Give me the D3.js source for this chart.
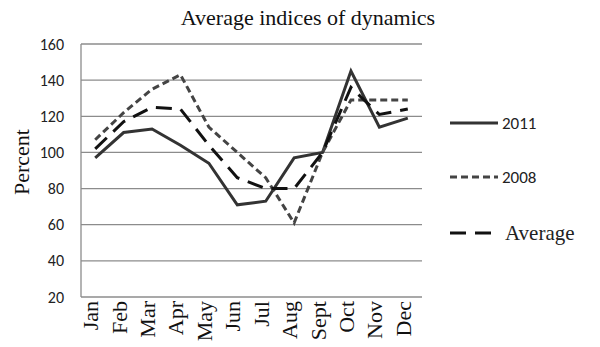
<!DOCTYPE html>
<html><head><meta charset="utf-8">
<script src="https://cdn.jsdelivr.net/npm/d3@7"></script>
<style>body{margin:0;background:#fff}svg{display:block}</style>
</head><body>
<svg id="c" width="600" height="347"></svg>
<script>
const months = ["Jan","Feb","Mar","Apr","May","Jun","Jul","Aug","Sept","Oct","Nov","Dec"];
const s2011 = [97,111,113,104,94,71,73,97,100,145,114,119];
const s2008 = [107,122,135,143,114,100,86,61,100,129,129,129];
const sAvg  = [102,117,125,124,104,86,80,80,100,136,121,124];
const yTicks = [20,40,60,80,100,120,140,160];

const svg = d3.select("#c");
const L = 81, R = 422, T = 44, B = 297;
const x = d3.scaleBand().domain(months).range([L, R]);
const y = d3.scaleLinear().domain([20,160]).range([B, T]);
const cx = m => x(m) + x.bandwidth()/2;

// gridlines
svg.append("g").selectAll("line").data(yTicks).join("line")
  .attr("x1", L).attr("x2", R).attr("y1", d=>y(d)).attr("y2", d=>y(d))
  .attr("stroke", "#8c8c8c").attr("stroke-width", 1.3);
svg.append("line").attr("x1", L).attr("x2", L).attr("y1", T).attr("y2", B)
  .attr("stroke", "#8c8c8c").attr("stroke-width", 1.3);

// y tick labels
svg.append("g").selectAll("text").data(yTicks).join("text")
  .attr("x", 64).attr("y", d=>y(d)).attr("dy", "0.35em")
  .attr("text-anchor", "end").attr("font-family", "Carlito, 'Liberation Sans', sans-serif")
  .attr("font-size", 16).attr("fill", "#222").text(d=>d);

// x labels
svg.append("g").selectAll("text").data(months).join("text")
  .attr("transform", d=>`translate(${cx(d)+3},${B+4}) rotate(-90)`)
  .attr("text-anchor", "end").attr("font-family", "'Liberation Serif', 'DejaVu Serif', serif")
  .attr("font-size", 22).attr("fill", "#111").text(d=>d);

// y title
svg.append("text").attr("transform", `translate(29,162) rotate(-90)`)
  .attr("text-anchor", "middle").attr("font-family", "'Liberation Serif', serif")
  .attr("font-size", 22).attr("fill", "#111").text("Percent");

// title
svg.append("text").attr("x", 308).attr("y", 25).attr("text-anchor", "middle")
  .attr("font-family", "'Liberation Serif', serif").attr("font-size", 22)
  .attr("fill", "#111").text("Average indices of dynamics");

const line = d3.line().x((d,i)=>cx(months[i])).y(d=>y(d));
const series = [
  {name:"2011", data:s2011, dash:null, color:"#333", font:"Carlito, 'Liberation Sans', sans-serif", size:17, ly:123},
  {name:"2008", data:s2008, dash:"7,4", color:"#444", font:"Carlito, 'Liberation Sans', sans-serif", size:17, ly:177},
  {name:"Average", data:sAvg, dash:"16,9", color:"#111", font:"'Liberation Serif', serif", size:21, ly:233}
];
series.forEach(s=>{
  svg.append("path").attr("d", line(s.data)).attr("fill","none")
    .attr("stroke", s.color).attr("stroke-width", 3)
    .attr("stroke-dasharray", s.dash).attr("stroke-linejoin","miter");
  svg.append("line").attr("x1", 450).attr("x2", 498).attr("y1", s.ly).attr("y2", s.ly)
    .attr("stroke", s.color).attr("stroke-width", 3).attr("stroke-dasharray", s.dash);
  svg.append("text").attr("x", s.name==="Average"?505:502).attr("y", s.ly).attr("dy","0.35em")
    .attr("font-family", s.font).attr("font-size", s.size).attr("fill","#222").text(s.name);
});
</script>
</body></html>
